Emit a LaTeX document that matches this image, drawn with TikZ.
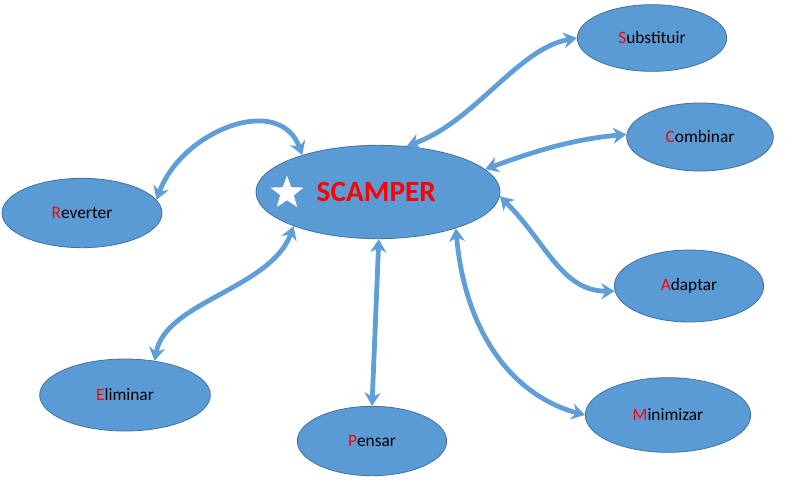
\documentclass[tikz,border=0pt]{standalone}
\usepackage{fontspec}
\setmainfont{Carlito}
\usetikzlibrary{shapes.geometric,arrows.meta}
\definecolor{blobfill}{RGB}{91,155,213}
\definecolor{blobline}{RGB}{65,113,156}
\definecolor{linkcol}{RGB}{95,158,215}
\tikzset{
  idea/.style={ellipse,draw=blobline,fill=blobfill,line width=0.6pt,font=\fontsize{13}{15}\selectfont},
  link/.style={linkcol,line width=3.6pt,{Stealth[length=10pt,width=12pt]}-{Stealth[length=10pt,width=12pt]}},
}
\newcommand{\ini}[1]{\textcolor{red}{#1}}
\begin{document}
\begin{tikzpicture}[x=0.75pt,y=-0.75pt]
\useasboundingbox (0,0) rectangle (800,482);
\node[idea,minimum width=183pt,minimum height=70pt] (scamper) at (378,192) {};
\node[star,star points=5,star point ratio=2.4,fill=white,minimum size=26pt,inner sep=0pt] (star) at (287,193) {};
\node[text=red,font=\fontsize{22}{24}\bfseries\selectfont,anchor=west] (title) at (312,192) {SCAMPER};
\node[idea,minimum width=112pt,minimum height=50pt] (subst) at (652,38) {\ini{S}ubstituir};
\node[idea,minimum width=110pt,minimum height=51pt] (comb) at (700,137) {\ini{C}ombinar};
\node[idea,minimum width=120pt,minimum height=52pt] (rev) at (82,213) {\ini{R}everter};
\node[idea,minimum width=112pt,minimum height=54pt] (adapt) at (689,286) {\ini{A}daptar};
\node[idea,minimum width=128pt,minimum height=54pt] (elim) at (125,395) {\ini{E}liminar};
\node[idea,minimum width=112pt,minimum height=52pt] (pens) at (372,441) {\ini{P}ensar};
\node[idea,minimum width=124pt,minimum height=56pt] (mini) at (668,415) {\ini{M}inimizar};
% connectors
\draw[link] (subst.180) .. controls +(190:45pt) and +(20:55pt) .. (scamper.58);
\draw[link] (comb.178) .. controls +(185:40pt) and +(20:40pt) .. (scamper.12);
\draw[link] (rev.10) .. controls +(70:55pt) and +(110:50pt) .. (scamper.154);
\draw[link] (scamper.-2) .. controls +(-45:50pt) and +(180:40pt) .. (adapt.184);
\draw[link] (scamper.202) .. controls +(-110:50pt) and +(80:45pt) .. (elim.49);
\draw[link] (scamper.-89) -- (pens.90);
\draw[link] (scamper.-25) .. controls +(-85:80pt) and +(165:55pt) .. (mini.180);
\end{tikzpicture}
\end{document}
